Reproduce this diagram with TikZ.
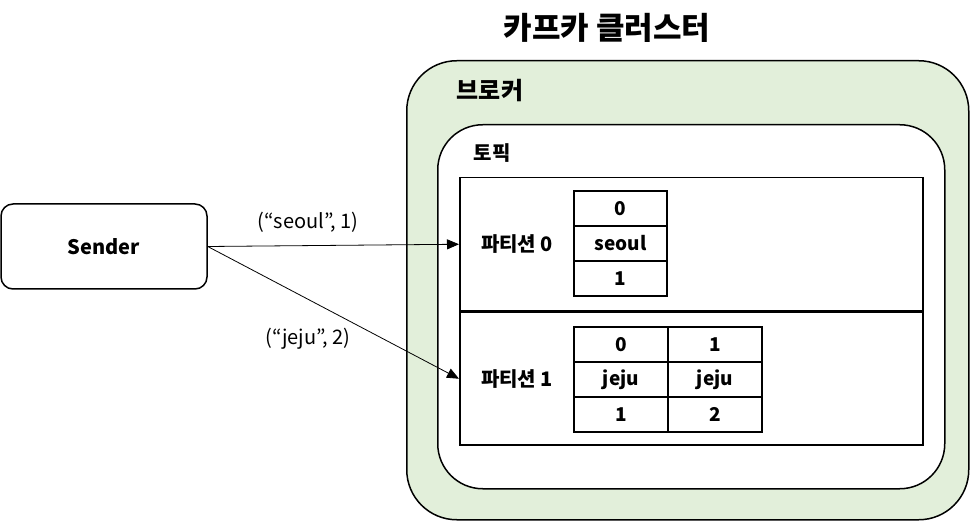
\documentclass[tikz,border=0pt]{standalone}
\usepackage{fontspec}
\setmainfont{Noto Sans CJK KR}
\newfontfamily\kr{Noto Sans CJK KR}
\usepackage{tikz}
\usetikzlibrary{matrix,arrows.meta}
\usetikzlibrary{calc}

\definecolor{brokergreen}{RGB}{226,239,218}

\begin{document}
\begin{tikzpicture}[x=1pt,y=-1pt,
		box/.style={draw,line width=1.5pt,inner sep=0pt},
		cell/.style={draw,line width=1.5pt,inner sep=0pt,minimum height=35pt,font=\bfseries\fontsize{19}{20}\selectfont},
		msg/.style={-{Triangle[length=12pt,width=10pt]},line width=0.8pt},
		msglabel/.style={font=\fontsize{20}{22}\selectfont}]
		\useasboundingbox (0,0) rectangle (970,521);
		
		\node[font=\kr\bfseries\fontsize{31}{34}\selectfont] (title) at (607,28) {카프카 클러스터};
		
		\node[box,fill=brokergreen,rounded corners=50pt,minimum width=562pt,minimum height=459pt,anchor=north west] (broker) at (406,60) {};
		\node[font=\kr\bfseries\fontsize{24}{26}\selectfont] (brokerlabel) at ($(broker.north west)+(84,31)$) {브로커};
		
		\node[box,fill=white,rounded corners=45pt,minimum width=507pt,minimum height=364pt,anchor=north west] (topic) at (437,124) {};
		\node[font=\kr\bfseries\fontsize{20}{22}\selectfont] (topiclabel) at ($(topic.north west)+(55,29)$) {토픽};
		
		\node[box,minimum width=463pt,minimum height=133pt,anchor=north west] (p0) at (459,177) {};
		\node[box,minimum width=463pt,minimum height=133pt,anchor=north] (p1) at (p0.south) {};
		\node[font=\bfseries\fontsize{20}{22}\selectfont] (p0label) at ($(p0.west)+(58,0)$) {{\kr 파티션} 0};
		\node[font=\bfseries\fontsize{20}{22}\selectfont] (p1label) at ($(p1.west)+(58,0)$) {{\kr 파티션} 1};
		
		\matrix (t0) [matrix of nodes,nodes={cell,minimum width=93pt},row sep=-1.5pt,inner sep=0pt,anchor=north west] at (573,190) {
			0 \\
			seoul \\
			1 \\
		};
		
		\matrix (t1) [matrix of nodes,nodes={cell,minimum width=94pt},row sep=-1.5pt,column sep=-1.5pt,inner sep=0pt,anchor=north west] at (573,326) {
			0 & 1 \\
			jeju & jeju \\
			1 & 2 \\
		};
		
		\node[box,rounded corners=12pt,minimum width=206pt,minimum height=85pt,font=\bfseries\fontsize{20}{22}\selectfont] (sender) at (104,246.5) {Sender};
		
		\draw[msg] (sender.east) -- node[msglabel,pos=0.40,yshift=23pt] (seoulmsg) {(“seoul”, 1)} (p0.west);
		
		\draw[msg] (sender.east) -- node[msglabel,pos=0.40,yshift=-39pt] (jejumsg) {(“jeju”, 2)} (p1.west);
		
	\end{tikzpicture}
\end{document}
